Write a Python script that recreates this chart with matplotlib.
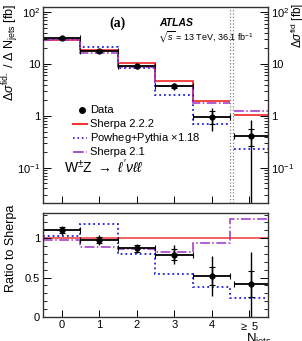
import numpy as np
import matplotlib
matplotlib.use("Agg")
import matplotlib.pyplot as plt
from matplotlib.ticker import FixedLocator, FixedFormatter, MultipleLocator, LogLocator, NullFormatter

plt.rcParams['font.family'] = ['Liberation Sans', 'DejaVu Sans']
plt.rcParams['mathtext.fontset'] = 'custom'
plt.rcParams['mathtext.rm'] = 'Liberation Sans'
plt.rcParams['mathtext.it'] = 'Liberation Sans:italic'
plt.rcParams['mathtext.fallback'] = 'stixsans'

# --- data ---
njet_labels = ["0", "1", "2", "3", "4", r"$\geq$ 5"]
edges_main = [-0.5, 0.5, 1.5, 2.5, 3.5, 4.5]
edges_last = [4.6, 5.5]
edges_ratio = [-0.5, 0.5, 1.5, 2.5, 3.5, 4.5, 5.5]
data_x = [0, 1, 2, 3, 4, 5.05]
data_xlo = [0.5, 0.5, 0.5, 0.5, 0.5, 0.45]
data_xhi = [0.5, 0.5, 0.5, 0.5, 0.5, 0.45]

data_xs = [32.0, 18.0, 9.1, 3.7, 0.96, 0.41]
data_tot_up = [2.5, 1.5, 1.0, 0.6, 0.46, 0.43]
data_tot_dn = [2.5, 1.5, 1.0, 0.6, 0.45, 0.40]
data_stat = [1.2, 0.9, 0.5, 0.3, 0.26, 0.15]

sherpa222 = [29.0, 18.3, 10.5, 4.7, 1.9, 1.05]
powheg = [30.0, 21.6, 8.4, 2.5, 0.70, 0.23]
sherpa21 = [28.5, 16.3, 8.9, 3.8, 1.8, 1.22]

ratio_data = [1.10, 0.98, 0.87, 0.79, 0.52, 0.42]
ratio_tot_up = [0.06, 0.06, 0.06, 0.12, 0.25, 0.40]
ratio_tot_dn = [0.06, 0.06, 0.06, 0.12, 0.25, 0.45]
ratio_stat = [0.04, 0.04, 0.04, 0.07, 0.11, 0.17]
ratio_sherpa222 = [1.0, 1.0, 1.0, 1.0, 1.0, 1.0]
ratio_powheg = [1.03, 1.18, 0.80, 0.54, 0.38, 0.24]
ratio_sherpa21 = [0.98, 0.89, 0.86, 0.82, 0.94, 1.24]

red = "#f03535"
blue = "#2020e0"
purple = "#a030c8"

W, H = 302, 341
fig = plt.figure(figsize=(W / 100, H / 100), dpi=100)

def fx(px):
    return px / W

def fy(px):
    return 1 - px / H

ax = fig.add_axes([fx(43), fy(203), fx(268) - fx(43), fy(7) - fy(203)])
axr = fig.add_axes([fx(43), fy(317), fx(268) - fx(43), fy(213) - fy(317)])

# upper panel
for vals, c, ls, lw in [(sherpa222, red, '-', 1.3), (powheg, blue, ':', 1.3), (sherpa21, purple, '-.', 1.1)]:
    ax.stairs(vals[:5], edges_main, baseline=None, color=c, linestyle=ls, lw=lw)
    ax.stairs(vals[5:], edges_last, baseline=None, color=c, linestyle=ls, lw=lw)

ax.axvline(4.5, color='gray', ls=':', lw=0.9)
ax.axvline(4.58, color='gray', ls=':', lw=0.9)

ax.errorbar(data_x, data_xs, yerr=[data_tot_dn, data_tot_up], fmt='none', ecolor='k', elinewidth=1.0, capsize=0)
ax.errorbar(data_x, data_xs, yerr=data_stat, fmt='none', ecolor='k', elinewidth=1.0, capsize=2, capthick=0.8)
ax.errorbar(data_x, data_xs, xerr=[data_xlo, data_xhi], fmt='o', color='k', ms=3.5, elinewidth=1.3, capsize=2, capthick=0.8)

ax.set_yscale('log')
ax.set_xlim(-0.5, 5.5)
ax.set_ylim(0.021, 125)
ax.yaxis.set_major_locator(FixedLocator([0.1, 1, 10, 100]))
ax.yaxis.set_major_formatter(FixedFormatter([r"$10^{-1}$", "1", "10", r"$10^{2}$"]))
ax.yaxis.set_minor_locator(LogLocator(base=10, subs=np.arange(2, 10)))
ax.yaxis.set_minor_formatter(NullFormatter())
ax.set_xticks(data_x[:5] + [5.0])
ax.set_xticklabels([])
ax.tick_params(axis='y', which='both', direction='in', left=True, right=True, labelright=True, labelsize=8, pad=2)
ax.tick_params(axis='y', which='major', length=6, width=0.7)
ax.tick_params(axis='y', which='minor', length=3, width=0.6)
ax.tick_params(axis='x', direction='in', length=5, width=0.7, top=False)

# legend, drawn by hand like the original
lx0, lx1, tx = fx(73), fx(87), fx(90)
ax.plot([fx(82)], [fy(110)], 'o', color='k', ms=4, transform=fig.transFigure, clip_on=False)
fig.text(tx, fy(110), "Data", fontsize=8, va='center')
rows = [("Sherpa 2.2.2", red, '-', 124), (r"Powheg+Pythia $\times$1.18", blue, ':', 138), ("Sherpa 2.1", purple, '-.', 152)]
for label, c, ls, ypx in rows:
    ax.plot([lx0, lx1], [fy(ypx), fy(ypx)], color=c, ls=ls, lw=1.5 if ls == '-' else 1.2,
            transform=fig.transFigure, clip_on=False)
    fig.text(tx, fy(ypx), label, fontsize=8, va='center')
fig.text(fx(64), fy(167), r"W$^{\pm}$Z $\rightarrow$ $\ell'\nu\ell\ell$", fontsize=10, va='center')

fig.text(fx(118), fy(23), "(a)", fontsize=10, fontweight='bold', family='Liberation Serif', ha='center', va='center')
fig.text(fx(159), fy(23), "ATLAS", fontsize=7.5, fontweight='bold', style='italic', va='center')
fig.text(fx(158), fy(37), r"$\sqrt{s}$ = 13 TeV, 36.1 fb$^{-1}$", fontsize=6.5, va='center')

fig.text(fx(11), fy(4), r"$\Delta\sigma^{\mathrm{fid.}}$ / $\Delta$ N$_{\mathrm{jets}}$ [fb]", rotation=90,
         fontsize=9, ha='center', va='top')
fig.text(fx(297.5), fy(3), r"$\Delta\sigma^{\mathrm{fid}}$ [fb]", rotation=90, fontsize=8.5, ha='center', va='top')

# ratio panel
for vals, c, ls, lw in [(ratio_sherpa222, red, '-', 1.1), (ratio_powheg, blue, ':', 1.3), (ratio_sherpa21, purple, '-.', 1.1)]:
    axr.stairs(vals, edges_ratio, baseline=None, color=c, linestyle=ls, lw=lw)

axr.errorbar(data_x, ratio_data, yerr=[ratio_tot_dn, ratio_tot_up], fmt='none', ecolor='k', elinewidth=1.0, capsize=0)
axr.errorbar(data_x, ratio_data, yerr=ratio_stat, fmt='none', ecolor='k', elinewidth=1.0, capsize=2, capthick=0.8)
axr.errorbar(data_x, ratio_data, xerr=[data_xlo, data_xhi], fmt='o', color='k', ms=3.5, elinewidth=1.3, capsize=2, capthick=0.8)

axr.set_xlim(-0.5, 5.5)
axr.set_ylim(0, 1.32)
axr.set_yticks([0, 0.5, 1])
axr.set_yticklabels(["0", "0.5", "1"])
axr.yaxis.set_minor_locator(MultipleLocator(0.1))
axr.set_xticks(data_x[:5] + [5.0])
axr.set_xticklabels(njet_labels)
axr.tick_params(axis='y', which='both', direction='in', left=True, right=True, labelsize=8, pad=2)
axr.tick_params(axis='y', which='major', length=6, width=0.7)
axr.tick_params(axis='y', which='minor', length=3, width=0.6)
axr.tick_params(axis='x', direction='in', length=5, width=0.7, labelsize=8, pad=2)

fig.text(fx(11), fy(205), "Ratio to Sherpa", rotation=90, fontsize=9, ha='center', va='top')
fig.text(fx(246), fy(342), r"N$_{\mathrm{jets}}$", fontsize=9.5, va='baseline')

for a in (ax, axr):
    for s in a.spines.values():
        s.set_linewidth(1.0)
        s.set_color('#333333')

fig.savefig("out.png", dpi=100)
